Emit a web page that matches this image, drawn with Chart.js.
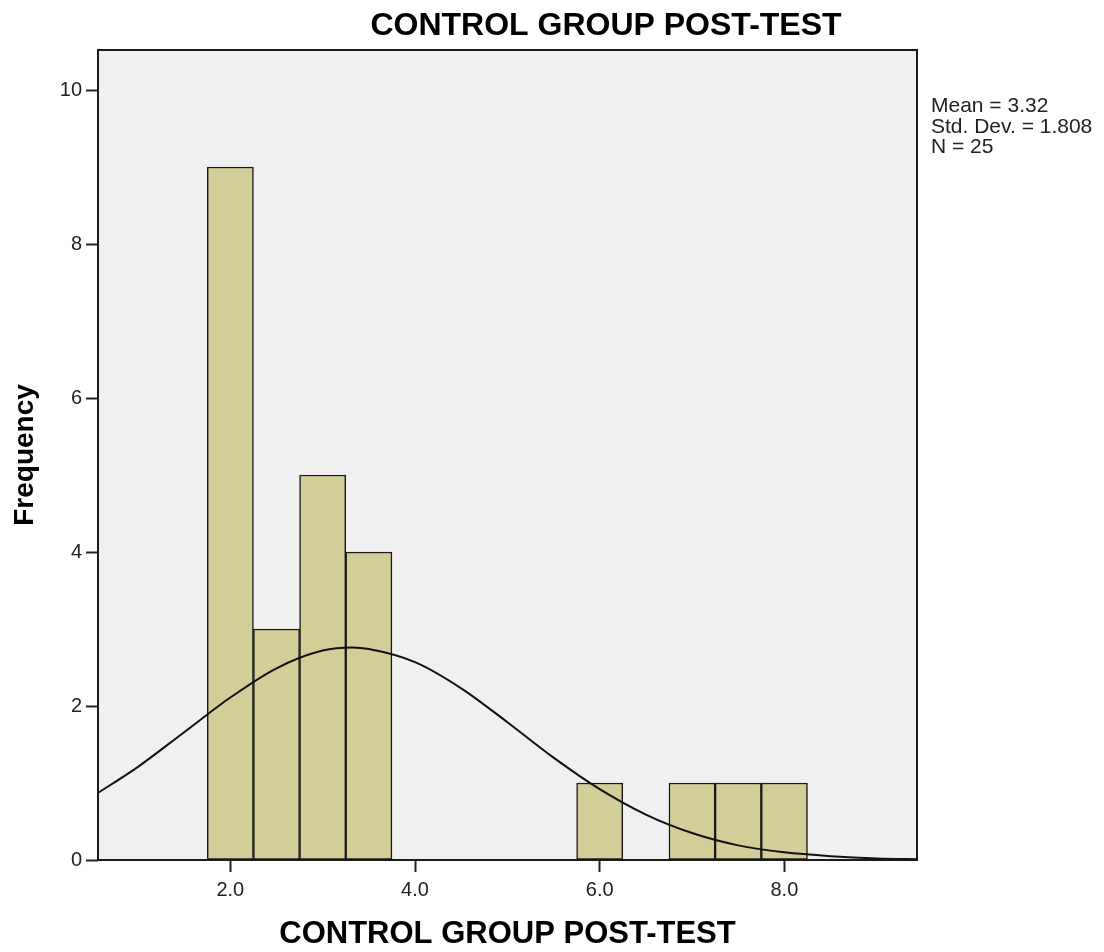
<!DOCTYPE html>
<html>
<head>
<meta charset="utf-8">
<title>CONTROL GROUP POST-TEST</title>
<script src="https://cdn.jsdelivr.net/npm/chart.js@4.4.1/dist/chart.umd.min.js"></script>
<style>
  body { margin: 0; background: #fff; }
  canvas { display: block; }
</style>
</head>
<body>
<canvas id="myChart" width="1104" height="952"></canvas>
<script>
// histogram bins (centre of each 0.5-wide bin) and counts
const binCenters = [2.0, 2.5, 3.0, 3.5, 6.0, 7.0, 7.5, 8.0];
const frequencies = [9, 3, 5, 4, 1, 1, 1, 1];

// normal curve
const curveX = [0.5, 1.0, 1.5, 2.0, 2.5, 3.0, 3.32, 3.5, 4.0, 4.5, 5.0, 5.5, 6.0, 6.5, 7.0, 7.5, 8.0, 8.5, 9.0, 9.5];
const curveY = [0.82, 1.21, 1.66, 2.11, 2.49, 2.72, 2.76, 2.74, 2.57, 2.23, 1.79, 1.33, 0.92, 0.59, 0.35, 0.19, 0.10, 0.05, 0.02, 0.01];

const xTicks = [2, 4, 6, 8];
const yTicks = [0, 2, 4, 6, 8, 10];

const chartTitle = "CONTROL GROUP POST-TEST";
const xTitle = "CONTROL GROUP POST-TEST";
const yTitle = "Frequency";
const statsLines = ["Mean = 3.32", "Std. Dev. = 1.808", "N = 25"];

const FONT = "'Liberation Sans', Arial, sans-serif";

const plotFrame = {
  id: "plotFrame",
  beforeDraw(chart) {
    const { ctx, chartArea: a } = chart;
    ctx.save();
    ctx.fillStyle = "#f0f0f0";
    ctx.fillRect(a.left, a.top, a.right - a.left, a.bottom - a.top);
    ctx.restore();
  },
  afterDatasetsDraw(chart) {
    const { ctx, chartArea: a } = chart;
    ctx.save();
    ctx.strokeStyle = "#1a1a1a";
    ctx.lineWidth = 2;
    ctx.strokeRect(a.left, a.top, a.right - a.left, a.bottom - a.top);
    ctx.restore();
  },
  afterDraw(chart) {
    const { ctx } = chart;
    ctx.save();
    ctx.fillStyle = "#000";
    ctx.textAlign = "center";
    ctx.textBaseline = "alphabetic";
    ctx.font = "bold 32px " + FONT;
    ctx.fillText(chartTitle, 606, 35);

    ctx.fillStyle = "#222";
    ctx.textAlign = "left";
    ctx.font = "21px " + FONT;
    statsLines.forEach((s, i) => {
      ctx.fillText(s, 931, 112 + i * 20.5);
    });
    ctx.restore();
  },
};

const ctx = document.getElementById("myChart");

new Chart(ctx, {
  type: "bar",
  data: {
    datasets: [
      {
        type: "line",
        label: "Normal",
        data: curveX.map((x, i) => ({ x: x, y: curveY[i] })),
        borderColor: "#111",
        borderWidth: 2,
        pointRadius: 0,
        fill: false,
        cubicInterpolationMode: "monotone",
        order: 0,
      },
      {
        type: "bar",
        label: "Frequency",
        data: binCenters.map((x, i) => ({ x: x, y: frequencies[i] })),
        backgroundColor: "#d3ce97",
        borderColor: "#1a1a1a",
        borderWidth: 1.5,
        borderSkipped: false,
        barPercentage: 1.0,
        categoryPercentage: 1.0,
        order: 1,
      },
    ],
  },
  options: {
    responsive: false,
    animation: false,
    devicePixelRatio: 1,
    layout: { padding: { top: 50, right: 187, bottom: 0, left: 0 } },
    plugins: {
      legend: { display: false },
      tooltip: { enabled: false },
      title: { display: false },
    },
    scales: {
      x: {
        type: "linear",
        offset: false,
        min: 0.567,
        max: 9.436,
        afterBuildTicks: (axis) => {
          axis.ticks = xTicks.map((v) => ({ value: v }));
        },
        afterFit: (axis) => {
          axis.height = 92;
        },
        border: { display: false },
        grid: {
          offset: false,
          drawOnChartArea: false,
          drawTicks: true,
          tickLength: 12,
          tickColor: "#222",
          tickWidth: 2,
        },
        ticks: {
          padding: 6,
          color: "#222",
          font: { family: FONT, size: 20 },
          maxRotation: 0,
          callback: (v) => Number(v).toFixed(1),
        },
        title: {
          display: true,
          text: xTitle,
          color: "#000",
          font: { family: FONT, size: 31, weight: "bold", lineHeight: 1.1 },
          padding: { top: 0, bottom: 0 },
        },
      },
      y: {
        min: 0,
        max: 10.52,
        afterBuildTicks: (axis) => {
          axis.ticks = yTicks.map((v) => ({ value: v }));
        },
        afterFit: (axis) => {
          axis.width = 98;
        },
        border: { display: false },
        grid: {
          drawOnChartArea: false,
          drawTicks: true,
          tickLength: 12,
          tickColor: "#222",
          tickWidth: 2,
        },
        ticks: {
          padding: 4,
          color: "#222",
          font: { family: FONT, size: 20 },
          callback: (v) => String(v),
        },
        title: {
          display: true,
          text: yTitle,
          color: "#000",
          font: { family: FONT, size: 28, weight: "bold" },
          padding: { top: 8, bottom: 0 },
        },
      },
    },
  },
  plugins: [plotFrame],
});
</script>
</body>
</html>
